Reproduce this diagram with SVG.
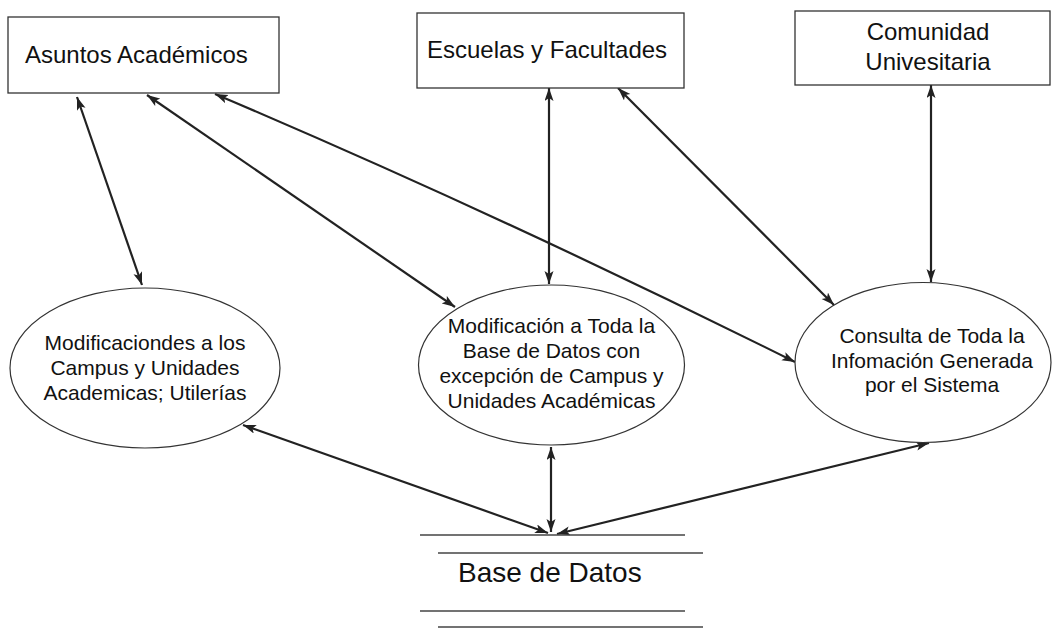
<svg xmlns="http://www.w3.org/2000/svg" width="1058" height="629" viewBox="0 0 1058 629">
<style>
.box{fill:#fff;stroke:#333;stroke-width:1.3}
.ell{fill:#fff;stroke:#333;stroke-width:1.2}
.t{font-family:"Liberation Sans",Arial,sans-serif;fill:#111}
.tb{font-size:24px}
.te{font-size:21px;text-anchor:middle}
.con{stroke:#222;stroke-width:2.2;fill:none;marker-start:url(#ah);marker-end:url(#ah)}
.ds{stroke:#444;stroke-width:1.3}
</style>
<defs>
<marker id="ah" markerUnits="userSpaceOnUse" markerWidth="14" markerHeight="10" refX="13" refY="4.5" orient="auto-start-reverse">
<path d="M0,0 L13,4.5 L0,9 L3,4.5 z" fill="#222"/>
</marker>
</defs>
<rect width="1058" height="629" fill="#fff"/>
<g id="connectors">
<line class="con" x1="77" y1="97" x2="142" y2="285"/>
<line class="con" x1="147" y1="95" x2="455" y2="307"/>
<path class="con" d="M215,94 Q500,215 795,362"/>
<line class="con" x1="549" y1="88" x2="549" y2="284"/>
<line class="con" x1="618" y1="88" x2="834" y2="305"/>
<line class="con" x1="931" y1="85" x2="931" y2="282"/>
<line class="con" x1="243" y1="425" x2="548" y2="533"/>
<line class="con" x1="551" y1="447" x2="551" y2="532"/>
<line class="con" x1="929" y1="443" x2="557" y2="534"/>
</g>
<g id="asuntos">
<rect class="box" x="8" y="17" width="271" height="76"/>
<text class="t tb" x="25" y="63">Asuntos Académicos</text>
</g>
<g id="escuelas">
<rect class="box" x="417" y="13" width="267" height="75"/>
<text class="t tb" x="427" y="58">Escuelas y Facultades</text>
</g>
<g id="comunidad">
<rect class="box" x="795" y="11" width="255" height="74"/>
<text class="t tb" x="928" y="40" text-anchor="middle">Comunidad</text>
<text class="t tb" x="928" y="70" text-anchor="middle">Univesitaria</text>
</g>
<g id="modCampus">
<ellipse class="ell" cx="145" cy="368" rx="135" ry="80"/>
<text class="t te" x="145" y="350">Modificaciondes a los</text>
<text class="t te" x="145" y="375">Campus y Unidades</text>
<text class="t te" x="145" y="400">Academicas; Utilerías</text>
</g>
<g id="modBase">
<ellipse class="ell" cx="551.5" cy="365" rx="133" ry="80"/>
<text class="t te" x="551.5" y="333">Modificación a Toda la</text>
<text class="t te" x="551.5" y="358">Base de Datos con</text>
<text class="t te" x="551.5" y="383">excepción de Campus y</text>
<text class="t te" x="551.5" y="408">Unidades Académicas</text>
</g>
<g id="consulta">
<ellipse class="ell" cx="923" cy="362.5" rx="128" ry="80"/>
<text class="t te" x="932" y="343">Consulta de Toda la</text>
<text class="t te" x="932" y="368">Infomación Generada</text>
<text class="t te" x="932" y="392">por el Sistema</text>
</g>
<g id="baseDatos">
<line class="ds" x1="420" y1="535" x2="685" y2="535"/>
<line class="ds" x1="438" y1="553" x2="703" y2="553"/>
<line class="ds" x1="420" y1="611" x2="685" y2="611"/>
<line class="ds" x1="438" y1="627" x2="703" y2="627"/>
<text class="t" x="458" y="582" font-size="28">Base de Datos</text>
</g>
</svg>
